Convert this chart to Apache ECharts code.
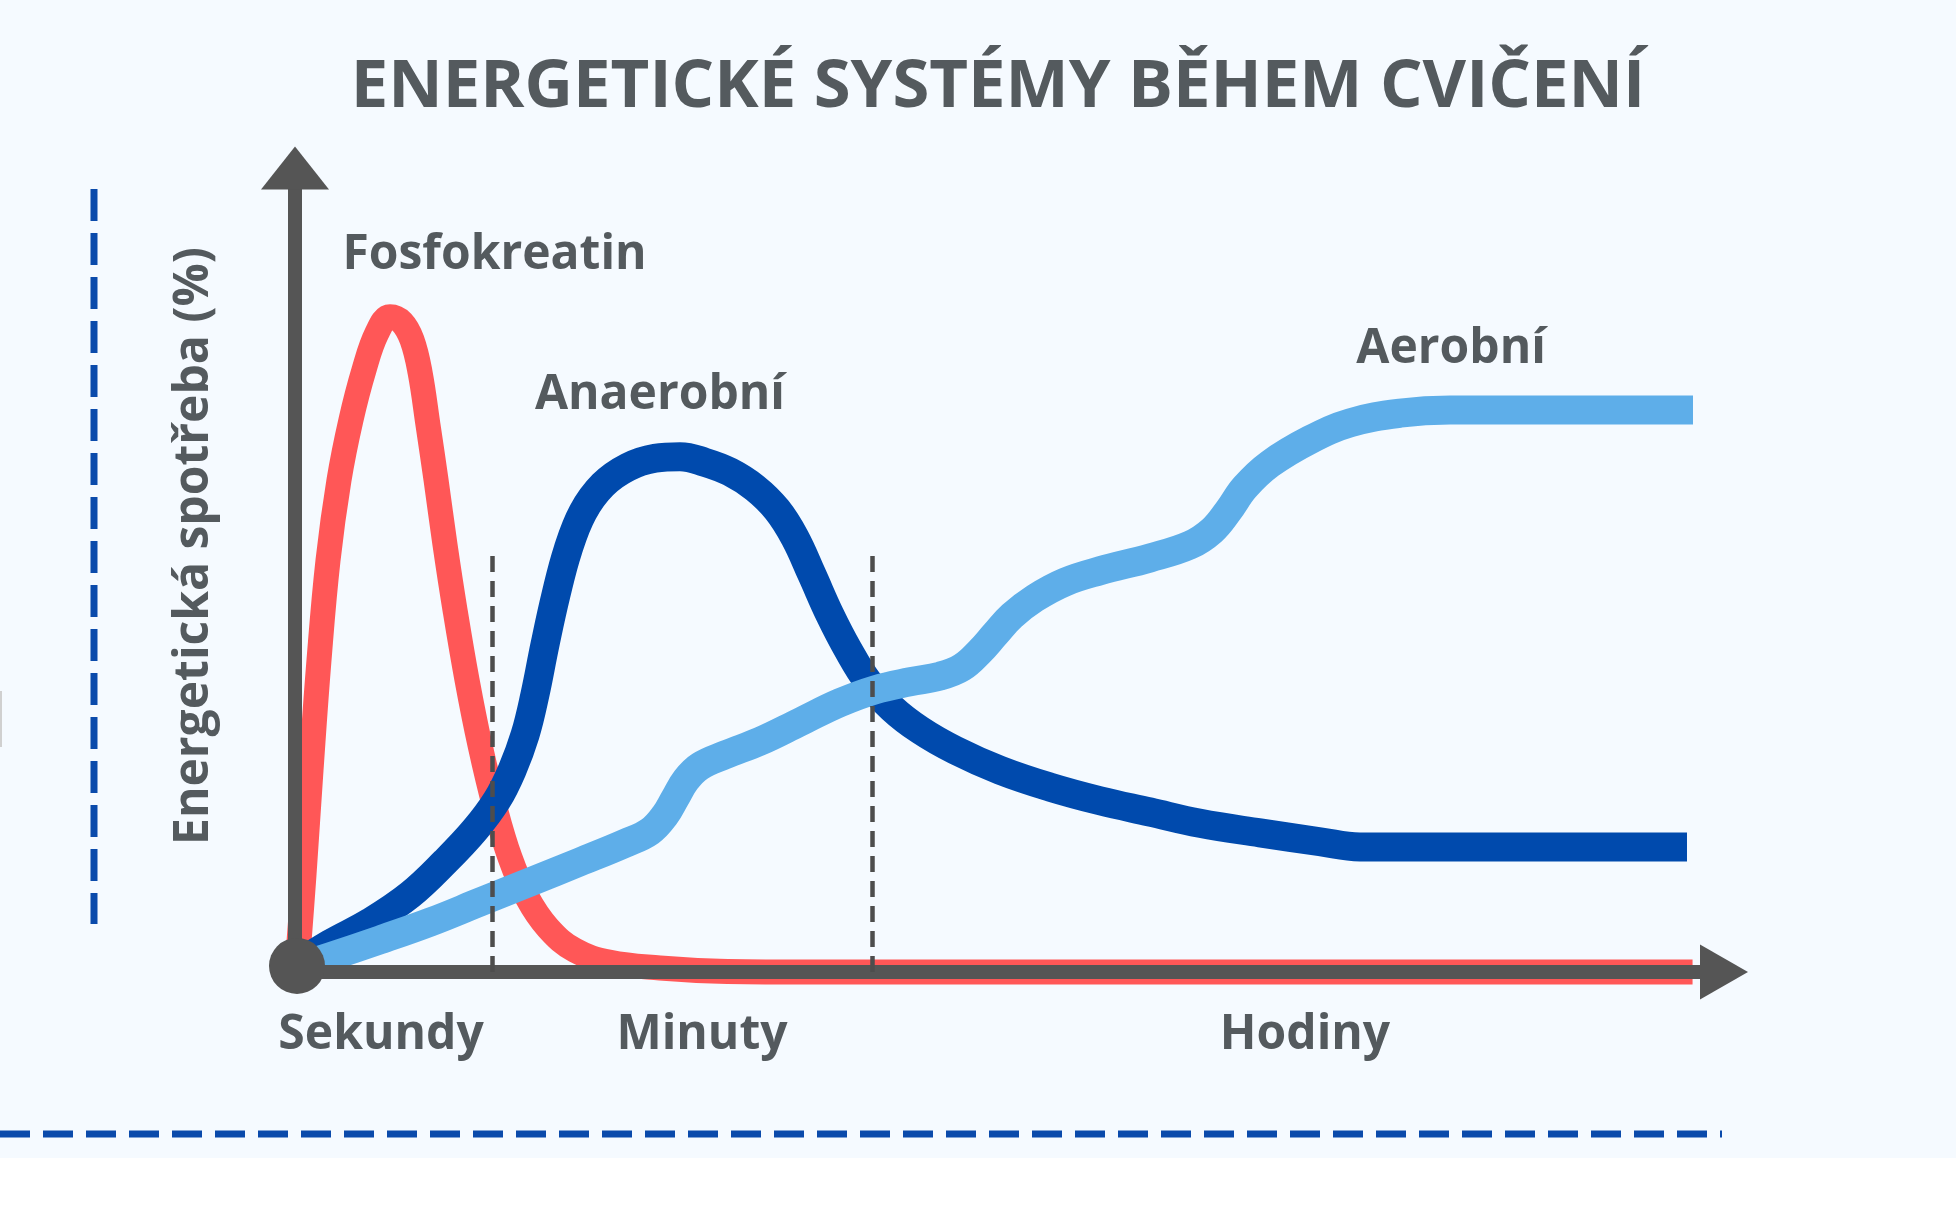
<!DOCTYPE html>
<html>
<head>
<meta charset="utf-8">
<script src="https://cdn.jsdelivr.net/npm/echarts@6/dist/echarts.min.js"></script>
<style>
html,body{margin:0;padding:0;background:#ffffff;}
#chart{width:1956px;height:1217px;}
</style>
</head>
<body>
<div id="chart"></div>
<script>
// ---- text ----
const chartTitle = 'ENERGETICKÉ SYSTÉMY BĚHEM CVIČENÍ';
const yAxisName = 'Energetická spotřeba (%)';
const seriesNames = ['Fosfokreatin', 'Anaerobní', 'Aerobní'];

// ---- x-axis phase labels (positions on the 0-100 time scale) ----
const xLabelNames = ['Sekundy', 'Minuty', 'Hodiny'];
const xLabelPos = [6.02, 28.48, 70.68];

// ---- phase boundaries (dashed lines) ----
const phaseBoundaries = [13.77, 40.43];
const boundaryTop = 52.2;

// ---- series label anchors [x, y] in data units ----
const seriesLabelAnchors = [[13.96, 89.1], [25.54, 71.7], [80.9, 77.5]];

// ---- series values [time, share %] ----
const fosfokreatin = [
  [0.14,0.5],[0.63,12.1],[1.12,25.1],[1.68,38.8],[2.31,51.2],[3.08,61.2],[3.92,68.7],
  [4.83,74.9],[5.74,79.5],[6.65,81.5],[7.49,80.8],[8.19,78.6],[8.75,74.6],[9.31,68.0],
  [9.87,61.2],[10.5,53.1],[11.2,45.0],[12.04,36.3],[12.95,28.2],[14.0,20.4],[15.05,14.2],
  [16.24,9.3],[17.7,5.5],[19.59,2.7],[22.04,1.2],[25.54,0.5],[29.7,0.1],[35.3,0],
  [60.0,0],[97.8,0]
];
const anaerobni = [
  [0.14,0.9],[2.45,3.5],[5.25,6.2],[8.05,9.6],[10.5,13.7],[12.6,17.7],[14.14,21.4],
  [15.19,25.1],[16.1,29.5],[16.79,34.5],[17.49,40.7],[18.26,46.9],[19.1,52.5],[20.15,57.2],
  [21.55,60.6],[23.3,62.8],[25.19,63.9],[26.94,64.1],[28.69,63.4],[30.44,62.2],[32.19,60.2],
  [33.73,57.5],[34.99,54.0],[36.18,49.4],[37.44,44.4],[38.7,40.1],[40.1,36.1],[41.78,32.8],
  [43.74,30.1],[46.19,27.6],[49.34,25.1],[52.83,23.0],[56.33,21.3],[59.83,19.9],[63.33,18.5],
  [67.53,17.3],[71.73,16.2],[74.53,15.55],[97.41,15.55]
];
const aerobni = [
  [0.14,0.6],[2.45,1.9],[5.95,4.0],[9.45,6.2],[12.95,8.7],[16.45,11.2],[19.94,13.7],
  [23.09,16.0],[24.84,17.5],[25.89,19.5],[26.59,21.6],[27.36,23.9],[28.34,25.6],[30.09,27.0],
  [32.54,28.7],[35.34,31.1],[38.14,33.5],[40.59,35.1],[43.04,36.1],[45.14,36.8],[46.68,37.9],
  [47.94,39.9],[48.99,42.0],[50.17,44.3],[51.78,46.5],[53.88,48.5],[56.33,49.9],[59.83,51.5],
  [62.63,53.1],[64.17,54.9],[65.29,57.3],[66.48,60.3],[68.23,63.2],[71.03,66.2],[73.83,68.3],
  [77.33,69.5],[80.83,69.9],[97.83,69.9]
];
const originPoint = [[0.14, 0.75]];

const textColor = '#545a5e';
const axisColor = '#555555';
const colors = ['#ff5757', '#004aad', '#5eaee9'];
const widths = [25, 29, 29];
const labelFont = 'bold 48px "Open Sans"';

const chart = echarts.init(document.getElementById('chart'), null, {renderer: 'canvas'});

function lineSeries(i, data, extra) {
  return Object.assign({
    name: seriesNames[i],
    type: 'line',
    data: data,
    smooth: 0.4,
    showSymbol: false,
    symbol: 'none',
    clip: false,
    silent: true,
    z: 2 + i * 0.1,
    lineStyle: {color: colors[i], width: widths[i], cap: 'butt', join: 'round'}
  }, extra || {});
}

const option = {
  animation: false,
  backgroundColor: '#f5faff',
  grid: {left: 295, right: 232, top: 168, bottom: 245, containLabel: false, outerBoundsMode: 'none'},
  xAxis: {
    type: 'value', min: 0, max: 100, z: 4,
    splitLine: {show: false},
    axisTick: {show: false},
    axisLine: {
      show: true, onZero: false,
      symbol: ['none', 'triangle'], symbolSize: [55, 48],
      lineStyle: {color: axisColor, width: 14, join: 'round'}
    },
    axisLabel: {
      show: true,
      customValues: xLabelPos,
      formatter: function (v) {
        let best = 0;
        for (let k = 1; k < xLabelPos.length; k++) {
          if (Math.abs(xLabelPos[k] - v) < Math.abs(xLabelPos[best] - v)) best = k;
        }
        return xLabelNames[best];
      },
      margin: 39,
      color: textColor, fontSize: 48, fontWeight: 'bold', fontFamily: 'Open Sans',
      lineHeight: 48, hideOverlap: false
    }
  },
  yAxis: {
    type: 'value', min: 0, max: 100, z: 4,
    splitLine: {show: false},
    axisTick: {show: false},
    axisLabel: {show: false},
    axisLine: {
      show: true, onZero: false,
      symbol: ['none', 'triangle'], symbolSize: [68, 43],
      lineStyle: {color: axisColor, width: 14, join: 'round'}
    }
  },
  series: [
    lineSeries(0, fosfokreatin),
    lineSeries(1, anaerobni),
    lineSeries(2, aerobni, {
      markLine: {
        silent: true, symbol: ['none', 'none'], z: 5,
        label: {show: false},
        lineStyle: {color: '#4d4d4d', width: 4.5, type: [16, 9], opacity: 1},
        data: phaseBoundaries.map(function (x) {
          return [{coord: [x, 0]}, {coord: [x, boundaryTop]}];
        })
      }
    }),
    {
      type: 'scatter', data: originPoint, symbolSize: 56, z: 6, silent: true,
      itemStyle: {color: axisColor, opacity: 1}
    }
  ],
  graphic: []
};

chart.setOption(option);

// Texts and decorations, positioned after layout
const graphics = [
  {type: 'rect', shape: {x: 0, y: 1158, width: 1956, height: 59}, style: {fill: '#ffffff'}, z: 0, silent: true},
  {type: 'line', shape: {x1: 94, y1: 189, x2: 94, y2: 924}, style: {stroke: '#0a4aab', lineWidth: 7, lineDash: [32, 12]}, silent: true},
  {type: 'line', shape: {x1: 0, y1: 1134, x2: 1722, y2: 1134}, style: {stroke: '#0a4aab', lineWidth: 7, lineDash: [30, 13]}, silent: true},
  {type: 'line', shape: {x1: 1, y1: 691, x2: 1, y2: 747}, style: {stroke: '#d0d0d0', lineWidth: 2}, silent: true},
  {type: 'text', x: 998, y: 88, silent: true,
   style: {text: chartTitle, font: 'bold 67px "Open Sans"', fill: textColor, align: 'center', verticalAlign: 'middle'}},
  {type: 'text', x: 194, y: 546, rotation: Math.PI / 2, silent: true,
   style: {text: yAxisName, font: labelFont, fill: textColor, align: 'center', verticalAlign: 'middle'}}
];
seriesLabelAnchors.forEach(function (p, i) {
  const px = chart.convertToPixel({gridIndex: 0}, p);
  graphics.push({type: 'text', x: px[0], y: px[1], silent: true, z: 10,
    style: {text: seriesNames[i], font: labelFont, fill: textColor, align: 'center', verticalAlign: 'middle'}});
});
chart.setOption({graphic: graphics});
</script>
</body>
</html>
